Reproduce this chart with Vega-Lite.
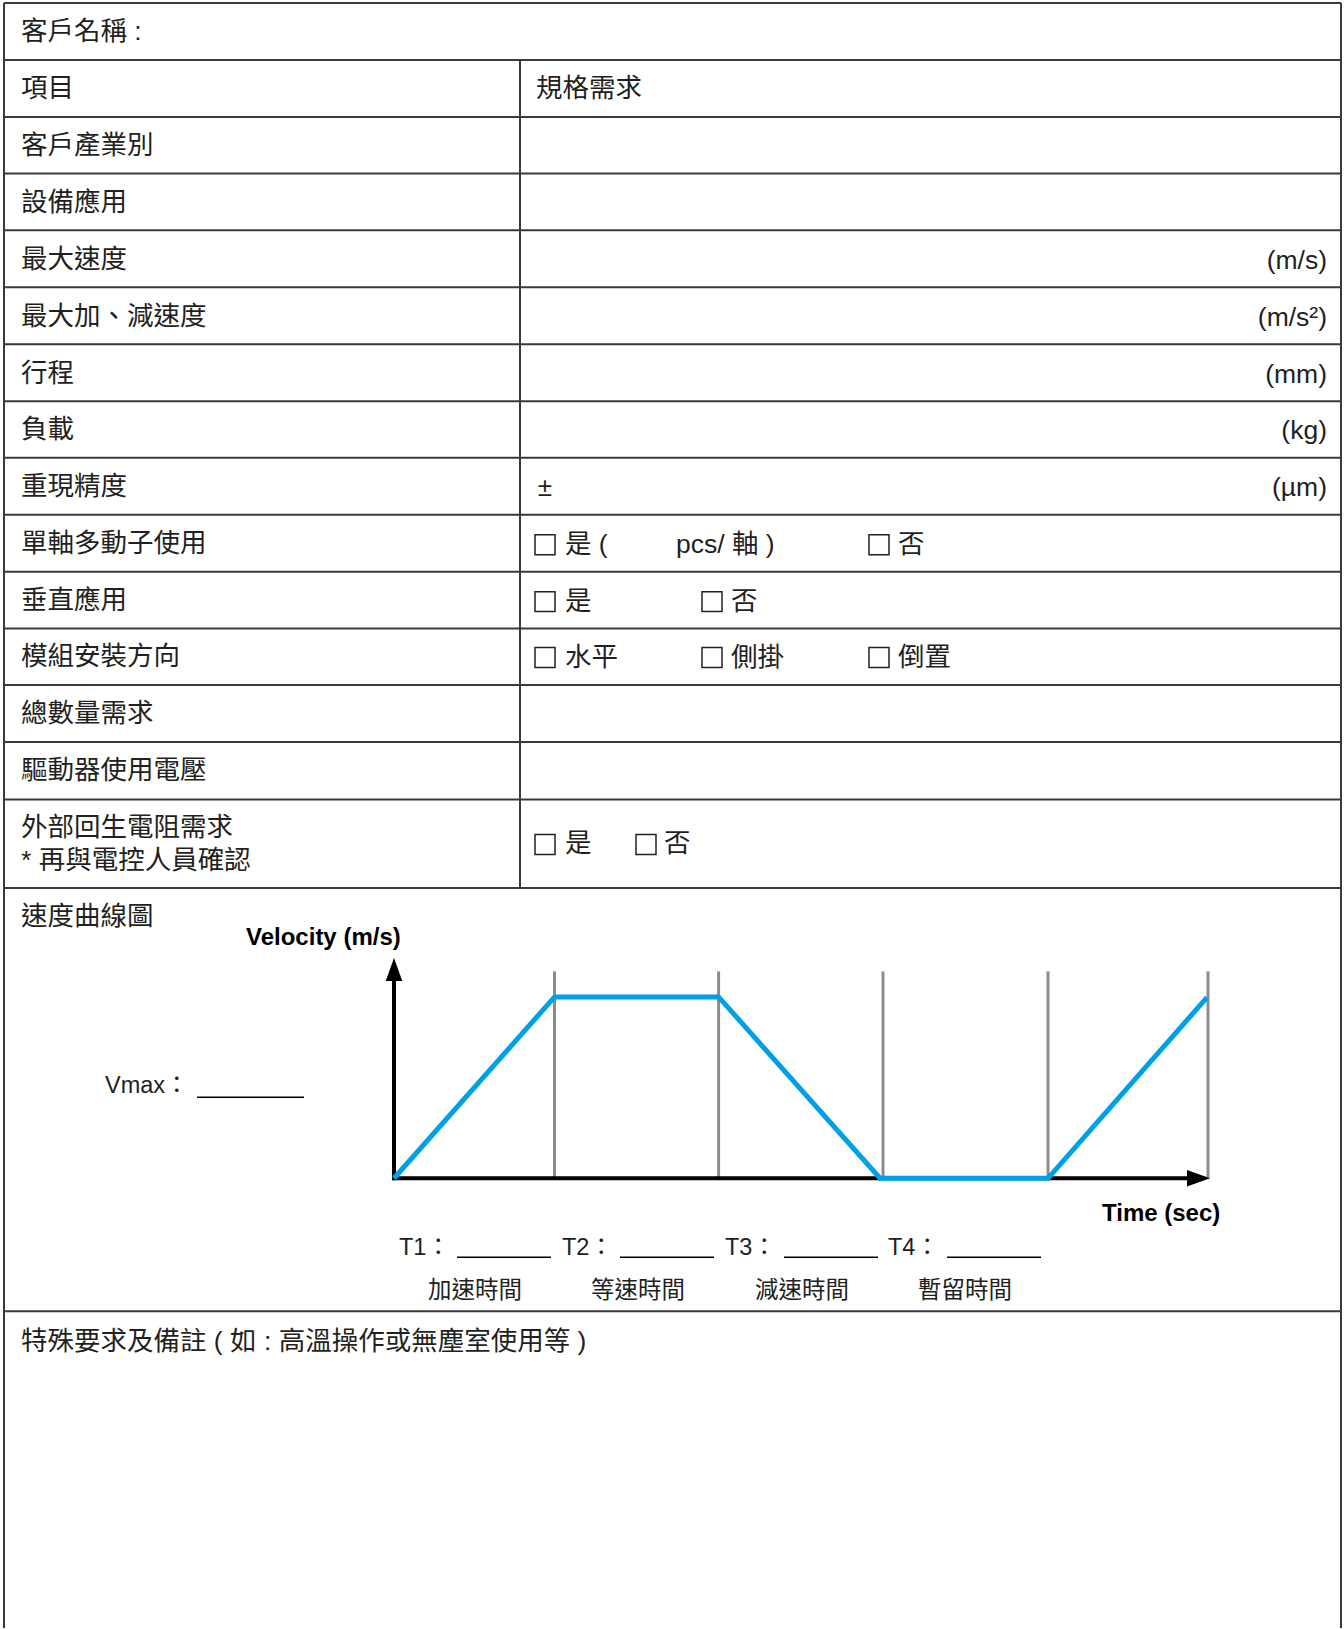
{
  "$schema": "https://vega.github.io/schema/vega-lite/v6.json",
  "width": 1344,
  "height": 1629,
  "autosize": {"type": "fit", "contains": "padding"},
  "padding": 0,
  "background": "white",
  "config": {"view": {"stroke": null}},
  "datasets": {
    "lines": [
      {"x": 4, "y": 3, "x2": 1341, "y2": 3},
      {"x": 4, "y": 60, "x2": 1341, "y2": 60},
      {"x": 4, "y": 117, "x2": 1341, "y2": 117},
      {"x": 4, "y": 173.5, "x2": 1341, "y2": 173.5},
      {"x": 4, "y": 230.5, "x2": 1341, "y2": 230.5},
      {"x": 4, "y": 287.5, "x2": 1341, "y2": 287.5},
      {"x": 4, "y": 344.5, "x2": 1341, "y2": 344.5},
      {"x": 4, "y": 401.5, "x2": 1341, "y2": 401.5},
      {"x": 4, "y": 458, "x2": 1341, "y2": 458},
      {"x": 4, "y": 515, "x2": 1341, "y2": 515},
      {"x": 4, "y": 572, "x2": 1341, "y2": 572},
      {"x": 4, "y": 629, "x2": 1341, "y2": 629},
      {"x": 4, "y": 685.5, "x2": 1341, "y2": 685.5},
      {"x": 4, "y": 742.5, "x2": 1341, "y2": 742.5},
      {"x": 4, "y": 800, "x2": 1341, "y2": 800},
      {"x": 4, "y": 888.5, "x2": 1341, "y2": 888.5},
      {"x": 4, "y": 1312, "x2": 1341, "y2": 1312},
      {"x": 4, "y": 3, "x2": 4, "y2": 1629},
      {"x": 1341, "y": 3, "x2": 1341, "y2": 1629},
      {"x": 520, "y": 60, "x2": 520, "y2": 888.5}
    ],
    "boxes": [
      {"x": 535, "y": 535, "x2": 555, "y2": 555},
      {"x": 869, "y": 535, "x2": 889, "y2": 555},
      {"x": 535, "y": 592, "x2": 555, "y2": 612},
      {"x": 702, "y": 592, "x2": 722, "y2": 612},
      {"x": 535, "y": 648, "x2": 555, "y2": 668},
      {"x": 702, "y": 648, "x2": 722, "y2": 668},
      {"x": 869, "y": 648, "x2": 889, "y2": 668},
      {"x": 535, "y": 835, "x2": 555, "y2": 855},
      {"x": 636, "y": 835, "x2": 656, "y2": 855}
    ],
    "labels": [
      {"x": 21, "y": 32, "t": "客戶名稱  :"},
      {"x": 21, "y": 89, "t": "項目"},
      {"x": 536, "y": 89, "t": "規格需求"},
      {"x": 21, "y": 146, "t": "客戶產業別"},
      {"x": 21, "y": 203, "t": "設備應用"},
      {"x": 21, "y": 260, "t": "最大速度"},
      {"x": 21, "y": 317, "t": "最大加、減速度"},
      {"x": 21, "y": 374, "t": "行程"},
      {"x": 21, "y": 430, "t": "負載"},
      {"x": 21, "y": 487, "t": "重現精度"},
      {"x": 21, "y": 544, "t": "單軸多動子使用"},
      {"x": 565, "y": 545, "t": "是 ("},
      {"x": 676, "y": 545, "t": "pcs/ 軸 )"},
      {"x": 898, "y": 545, "t": "否"},
      {"x": 21, "y": 601, "t": "垂直應用"},
      {"x": 565, "y": 602, "t": "是"},
      {"x": 731, "y": 602, "t": "否"},
      {"x": 21, "y": 657, "t": "模組安裝方向"},
      {"x": 565, "y": 658, "t": "水平"},
      {"x": 731, "y": 658, "t": "側掛"},
      {"x": 898, "y": 658, "t": "倒置"},
      {"x": 21, "y": 714, "t": "總數量需求"},
      {"x": 21, "y": 771, "t": "驅動器使用電壓"},
      {"x": 21, "y": 829, "t": "外部回生電阻需求"},
      {"x": 21, "y": 862, "t": "* 再與電控人員確認"},
      {"x": 565, "y": 845, "t": "是"},
      {"x": 664, "y": 845, "t": "否"},
      {"x": 21, "y": 918, "t": "速度曲線圖"},
      {"x": 21, "y": 1343, "t": "特殊要求及備註 ( 如 : 高溫操作或無塵室使用等 )"}
    ],
    "units": [
      {"x": 1327, "y": 261, "t": "(m/s)"},
      {"x": 1327, "y": 318, "t": "(m/s²)"},
      {"x": 1327, "y": 375, "t": "(mm)"},
      {"x": 1327, "y": 431, "t": "(kg)"},
      {"x": 1327, "y": 488, "t": "(µm)"}
    ],
    "plus": [
      {"x": 545, "y": 488, "t": "±"}
    ],
    "diag": [
      {"x": 105, "y": 1087, "t": "Vmax："},
      {"x": 399, "y": 1249, "t": "T1："},
      {"x": 562, "y": 1249, "t": "T2："},
      {"x": 725, "y": 1249, "t": "T3："},
      {"x": 888, "y": 1249, "t": "T4："}
    ],
    "sub": [
      {"x": 428, "y": 1292, "t": "加速時間"},
      {"x": 591, "y": 1292, "t": "等速時間"},
      {"x": 755, "y": 1292, "t": "減速時間"},
      {"x": 918, "y": 1292, "t": "暫留時間"}
    ],
    "bold": [
      {"x": 246, "y": 939, "t": "Velocity (m/s)"},
      {"x": 1102, "y": 1215, "t": "Time (sec)"}
    ],
    "blanks": [
      {"x": 197, "y": 1098, "x2": 304, "y2": 1098},
      {"x": 457, "y": 1258, "x2": 551, "y2": 1258},
      {"x": 620, "y": 1258, "x2": 714, "y2": 1258},
      {"x": 784, "y": 1258, "x2": 878, "y2": 1258},
      {"x": 947, "y": 1258, "x2": 1041, "y2": 1258}
    ],
    "guides": [
      {"x": 554.5, "y": 972, "x2": 554.5, "y2": 1179},
      {"x": 718.6, "y": 972, "x2": 718.6, "y2": 1179},
      {"x": 883, "y": 972, "x2": 883, "y2": 1179},
      {"x": 1048, "y": 972, "x2": 1048, "y2": 1179},
      {"x": 1208, "y": 972, "x2": 1208, "y2": 1179}
    ],
    "axes": [
      {"x": 394, "y": 978, "x2": 394, "y2": 1181},
      {"x": 392, "y": 1179, "x2": 1190, "y2": 1179}
    ],
    "arrowUp": [{"x": 394, "y": 970}],
    "arrowRight": [{"x": 1198.5, "y": 1179}],
    "profile": [
      {"o": 1, "x": 394, "y": 1179},
      {"o": 2, "x": 554.6, "y": 997.5},
      {"o": 3, "x": 718.6, "y": 997.5},
      {"o": 4, "x": 880, "y": 1179},
      {"o": 5, "x": 1048, "y": 1179},
      {"o": 6, "x": 1207, "y": 998}
    ]
  },
  "layer": [
    {
      "data": {"name": "lines"},
      "mark": {"type": "rule", "stroke": "#3a3a3a", "strokeWidth": 2},
      "encoding": {
        "x": {"field": "x", "type": "quantitative", "scale": {"domain": [0, 1344], "nice": false, "zero": false}, "axis": null},
        "x2": {"field": "x2"},
        "y": {"field": "y", "type": "quantitative", "scale": {"domain": [0, 1629], "nice": false, "zero": false, "reverse": true}, "axis": null},
        "y2": {"field": "y2"}
      }
    },
    {
      "data": {"name": "boxes"},
      "mark": {"type": "rect", "fill": "white", "stroke": "#222222", "strokeWidth": 1.5},
      "encoding": {
        "x": {"field": "x", "type": "quantitative", "scale": {"domain": [0, 1344], "nice": false, "zero": false}, "axis": null},
        "x2": {"field": "x2"},
        "y": {"field": "y", "type": "quantitative", "scale": {"domain": [0, 1629], "nice": false, "zero": false, "reverse": true}, "axis": null},
        "y2": {"field": "y2"}
      }
    },
    {
      "data": {"name": "guides"},
      "mark": {"type": "rule", "stroke": "#8c8c8c", "strokeWidth": 3},
      "encoding": {
        "x": {"field": "x", "type": "quantitative", "scale": {"domain": [0, 1344], "nice": false, "zero": false}, "axis": null},
        "x2": {"field": "x2"},
        "y": {"field": "y", "type": "quantitative", "scale": {"domain": [0, 1629], "nice": false, "zero": false, "reverse": true}, "axis": null},
        "y2": {"field": "y2"}
      }
    },
    {
      "data": {"name": "axes"},
      "mark": {"type": "rule", "stroke": "#000000", "strokeWidth": 4},
      "encoding": {
        "x": {"field": "x", "type": "quantitative", "scale": {"domain": [0, 1344], "nice": false, "zero": false}, "axis": null},
        "x2": {"field": "x2"},
        "y": {"field": "y", "type": "quantitative", "scale": {"domain": [0, 1629], "nice": false, "zero": false, "reverse": true}, "axis": null},
        "y2": {"field": "y2"}
      }
    },
    {
      "data": {"name": "arrowUp"},
      "mark": {"type": "point", "shape": "M0,-1L0.72,1L-0.72,1Z", "size": 529, "filled": true, "fill": "#000000", "stroke": null, "opacity": 1},
      "encoding": {
        "x": {"field": "x", "type": "quantitative", "scale": {"domain": [0, 1344], "nice": false, "zero": false}, "axis": null},
        "y": {"field": "y", "type": "quantitative", "scale": {"domain": [0, 1629], "nice": false, "zero": false, "reverse": true}, "axis": null}
      }
    },
    {
      "data": {"name": "arrowRight"},
      "mark": {"type": "point", "shape": "M1,0L-1,0.72L-1,-0.72Z", "size": 529, "filled": true, "fill": "#000000", "stroke": null, "opacity": 1},
      "encoding": {
        "x": {"field": "x", "type": "quantitative", "scale": {"domain": [0, 1344], "nice": false, "zero": false}, "axis": null},
        "y": {"field": "y", "type": "quantitative", "scale": {"domain": [0, 1629], "nice": false, "zero": false, "reverse": true}, "axis": null}
      }
    },
    {
      "data": {"name": "profile"},
      "mark": {"type": "line", "stroke": "#00a0e9", "strokeWidth": 5, "strokeJoin": "miter"},
      "encoding": {
        "x": {"field": "x", "type": "quantitative", "scale": {"domain": [0, 1344], "nice": false, "zero": false}, "axis": null},
        "y": {"field": "y", "type": "quantitative", "scale": {"domain": [0, 1629], "nice": false, "zero": false, "reverse": true}, "axis": null},
        "order": {"field": "o", "type": "quantitative"}
      }
    },
    {
      "data": {"name": "blanks"},
      "mark": {"type": "rule", "stroke": "#000000", "strokeWidth": 1.5},
      "encoding": {
        "x": {"field": "x", "type": "quantitative", "scale": {"domain": [0, 1344], "nice": false, "zero": false}, "axis": null},
        "x2": {"field": "x2"},
        "y": {"field": "y", "type": "quantitative", "scale": {"domain": [0, 1629], "nice": false, "zero": false, "reverse": true}, "axis": null},
        "y2": {"field": "y2"}
      }
    },
    {
      "data": {"name": "labels"},
      "mark": {"type": "text", "align": "left", "baseline": "middle", "font": "Liberation Sans, Noto Sans CJK TC", "fontSize": 26.5, "fill": "#231f20"},
      "encoding": {
        "x": {"field": "x", "type": "quantitative", "scale": {"domain": [0, 1344], "nice": false, "zero": false}, "axis": null},
        "y": {"field": "y", "type": "quantitative", "scale": {"domain": [0, 1629], "nice": false, "zero": false, "reverse": true}, "axis": null},
        "text": {"field": "t"}
      }
    },
    {
      "data": {"name": "units"},
      "mark": {"type": "text", "align": "right", "baseline": "middle", "font": "Liberation Sans, Noto Sans CJK TC", "fontSize": 26.5, "fill": "#231f20"},
      "encoding": {
        "x": {"field": "x", "type": "quantitative", "scale": {"domain": [0, 1344], "nice": false, "zero": false}, "axis": null},
        "y": {"field": "y", "type": "quantitative", "scale": {"domain": [0, 1629], "nice": false, "zero": false, "reverse": true}, "axis": null},
        "text": {"field": "t"}
      }
    },
    {
      "data": {"name": "plus"},
      "mark": {"type": "text", "align": "center", "baseline": "middle", "font": "Liberation Sans", "fontSize": 26, "fill": "#231f20"},
      "encoding": {
        "x": {"field": "x", "type": "quantitative", "scale": {"domain": [0, 1344], "nice": false, "zero": false}, "axis": null},
        "y": {"field": "y", "type": "quantitative", "scale": {"domain": [0, 1629], "nice": false, "zero": false, "reverse": true}, "axis": null},
        "text": {"field": "t"}
      }
    },
    {
      "data": {"name": "diag"},
      "mark": {"type": "text", "align": "left", "baseline": "middle", "font": "Liberation Sans, Noto Sans CJK TC", "fontSize": 23.5, "fill": "#231f20"},
      "encoding": {
        "x": {"field": "x", "type": "quantitative", "scale": {"domain": [0, 1344], "nice": false, "zero": false}, "axis": null},
        "y": {"field": "y", "type": "quantitative", "scale": {"domain": [0, 1629], "nice": false, "zero": false, "reverse": true}, "axis": null},
        "text": {"field": "t"}
      }
    },
    {
      "data": {"name": "sub"},
      "mark": {"type": "text", "align": "left", "baseline": "middle", "font": "Noto Sans CJK TC", "fontSize": 23.5, "fill": "#231f20"},
      "encoding": {
        "x": {"field": "x", "type": "quantitative", "scale": {"domain": [0, 1344], "nice": false, "zero": false}, "axis": null},
        "y": {"field": "y", "type": "quantitative", "scale": {"domain": [0, 1629], "nice": false, "zero": false, "reverse": true}, "axis": null},
        "text": {"field": "t"}
      }
    },
    {
      "data": {"name": "bold"},
      "mark": {"type": "text", "align": "left", "baseline": "middle", "font": "Liberation Sans", "fontWeight": "bold", "fontSize": 24, "fill": "#000000"},
      "encoding": {
        "x": {"field": "x", "type": "quantitative", "scale": {"domain": [0, 1344], "nice": false, "zero": false}, "axis": null},
        "y": {"field": "y", "type": "quantitative", "scale": {"domain": [0, 1629], "nice": false, "zero": false, "reverse": true}, "axis": null},
        "text": {"field": "t"}
      }
    }
  ]
}
